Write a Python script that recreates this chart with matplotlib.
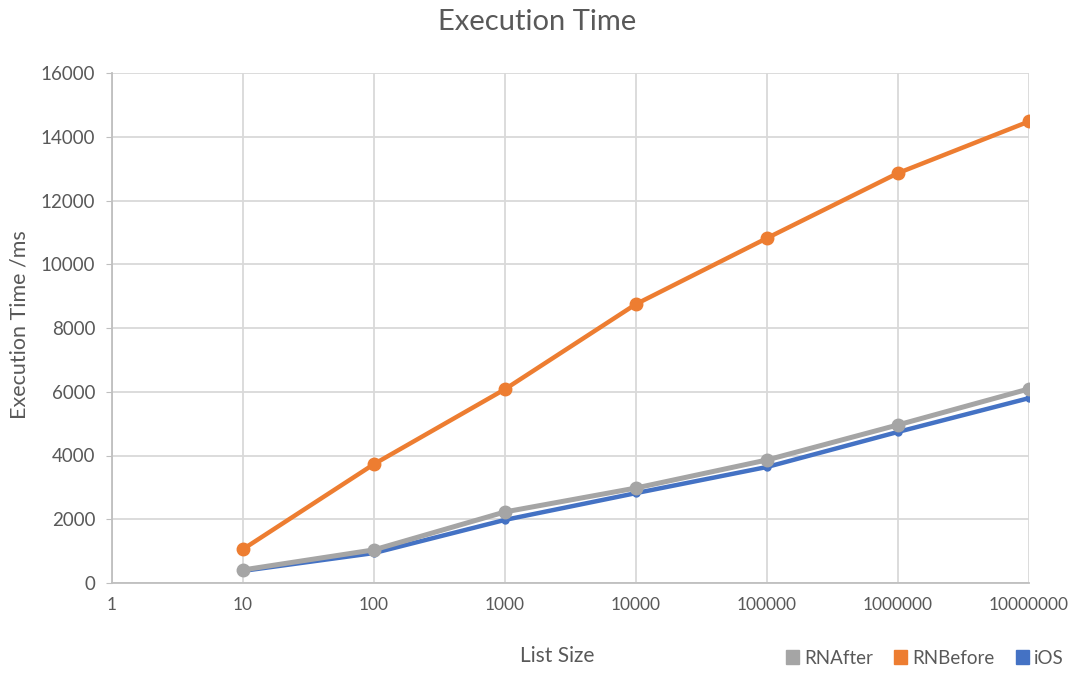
import matplotlib
matplotlib.use('Agg')
import matplotlib.pyplot as plt
from matplotlib.ticker import FixedLocator, FixedFormatter, NullLocator
from matplotlib.patches import Patch

# Data
list_size = [10, 100, 1000, 10000, 100000, 1000000, 10000000]
rn_before = [1060, 3730, 6080, 8750, 10820, 12860, 14480]
rn_after = [410, 1040, 2230, 2980, 3860, 4960, 6090]
ios = [380, 940, 1980, 2820, 3640, 4740, 5800]

x_ticks = [1, 10, 100, 1000, 10000, 100000, 1000000, 10000000]
x_tick_labels = [str(t) for t in x_ticks]
y_ticks = list(range(0, 16001, 2000))

text_color = '#595959'
grid_color = '#d9d9d9'
plt.rcParams['font.family'] = ['Lato', 'DejaVu Sans']

fig = plt.figure(figsize=(10.82, 6.73), dpi=100)
ax = fig.add_axes([112 / 1082, 1 - 583 / 673, (1029 - 112) / 1082, (583 - 73) / 673])

# iOS underneath, then RNAfter, then RNBefore on top
ax.plot(list_size, ios, color='#4472c4', lw=3.2, marker='o', ms=5, label='iOS', zorder=3)
ax.plot(list_size, rn_after, color='#a5a5a5', lw=3.6, marker='o', ms=9, label='RNAfter', zorder=4)
ax.plot(list_size, rn_before, color='#ed7d31', lw=3.2, marker='o', ms=9, label='RNBefore', zorder=5)

ax.set_xscale('log')
ax.set_xlim(1, 10000000)
ax.set_ylim(0, 16000)
ax.xaxis.set_major_locator(FixedLocator(x_ticks))
ax.xaxis.set_major_formatter(FixedFormatter(x_tick_labels))
ax.xaxis.set_minor_locator(NullLocator())
ax.set_yticks(y_ticks)

ax.grid(True, color=grid_color, lw=1.3)
ax.set_axisbelow(True)
for side in ['top', 'right']:
    ax.spines[side].set_visible(False)
for side in ['left', 'bottom']:
    ax.spines[side].set_color('#bfbfbf')
    ax.spines[side].set_linewidth(1.3)

ax.tick_params(axis='both', colors='#bfbfbf', labelcolor=text_color, length=4)
ax.tick_params(axis='x', length=0, pad=10, labelsize=12.5)
ax.tick_params(axis='y', labelsize=13.5, pad=8)

fig.text(537 / 1082, 1 - 22 / 673, 'Execution Time', fontsize=21, color=text_color,
         ha='center', va='center')
fig.text(557 / 1082, 1 - 656 / 673, 'List Size', fontsize=15, color=text_color,
         ha='center', va='center')
fig.text(20 / 1082, 1 - 325 / 673, 'Execution Time /ms', fontsize=15.5, color=text_color,
         ha='center', va='center', rotation=90)

handles, labels = ax.get_legend_handles_labels()
order = [labels.index(n) for n in ['RNAfter', 'RNBefore', 'iOS']]
patches = [Patch(color=handles[i].get_color(), label=labels[i]) for i in order]
leg = fig.legend(handles=patches, loc='center right', bbox_to_anchor=(1064 / 1082, 1 - 658 / 673),
                 ncol=3, frameon=False, fontsize=13.5, borderaxespad=0, borderpad=0,
                 handlelength=0.7, handleheight=0.7, handletextpad=0.3, columnspacing=1.1)
for t in leg.get_texts():
    t.set_color(text_color)

fig.savefig('out.png', dpi=100)
